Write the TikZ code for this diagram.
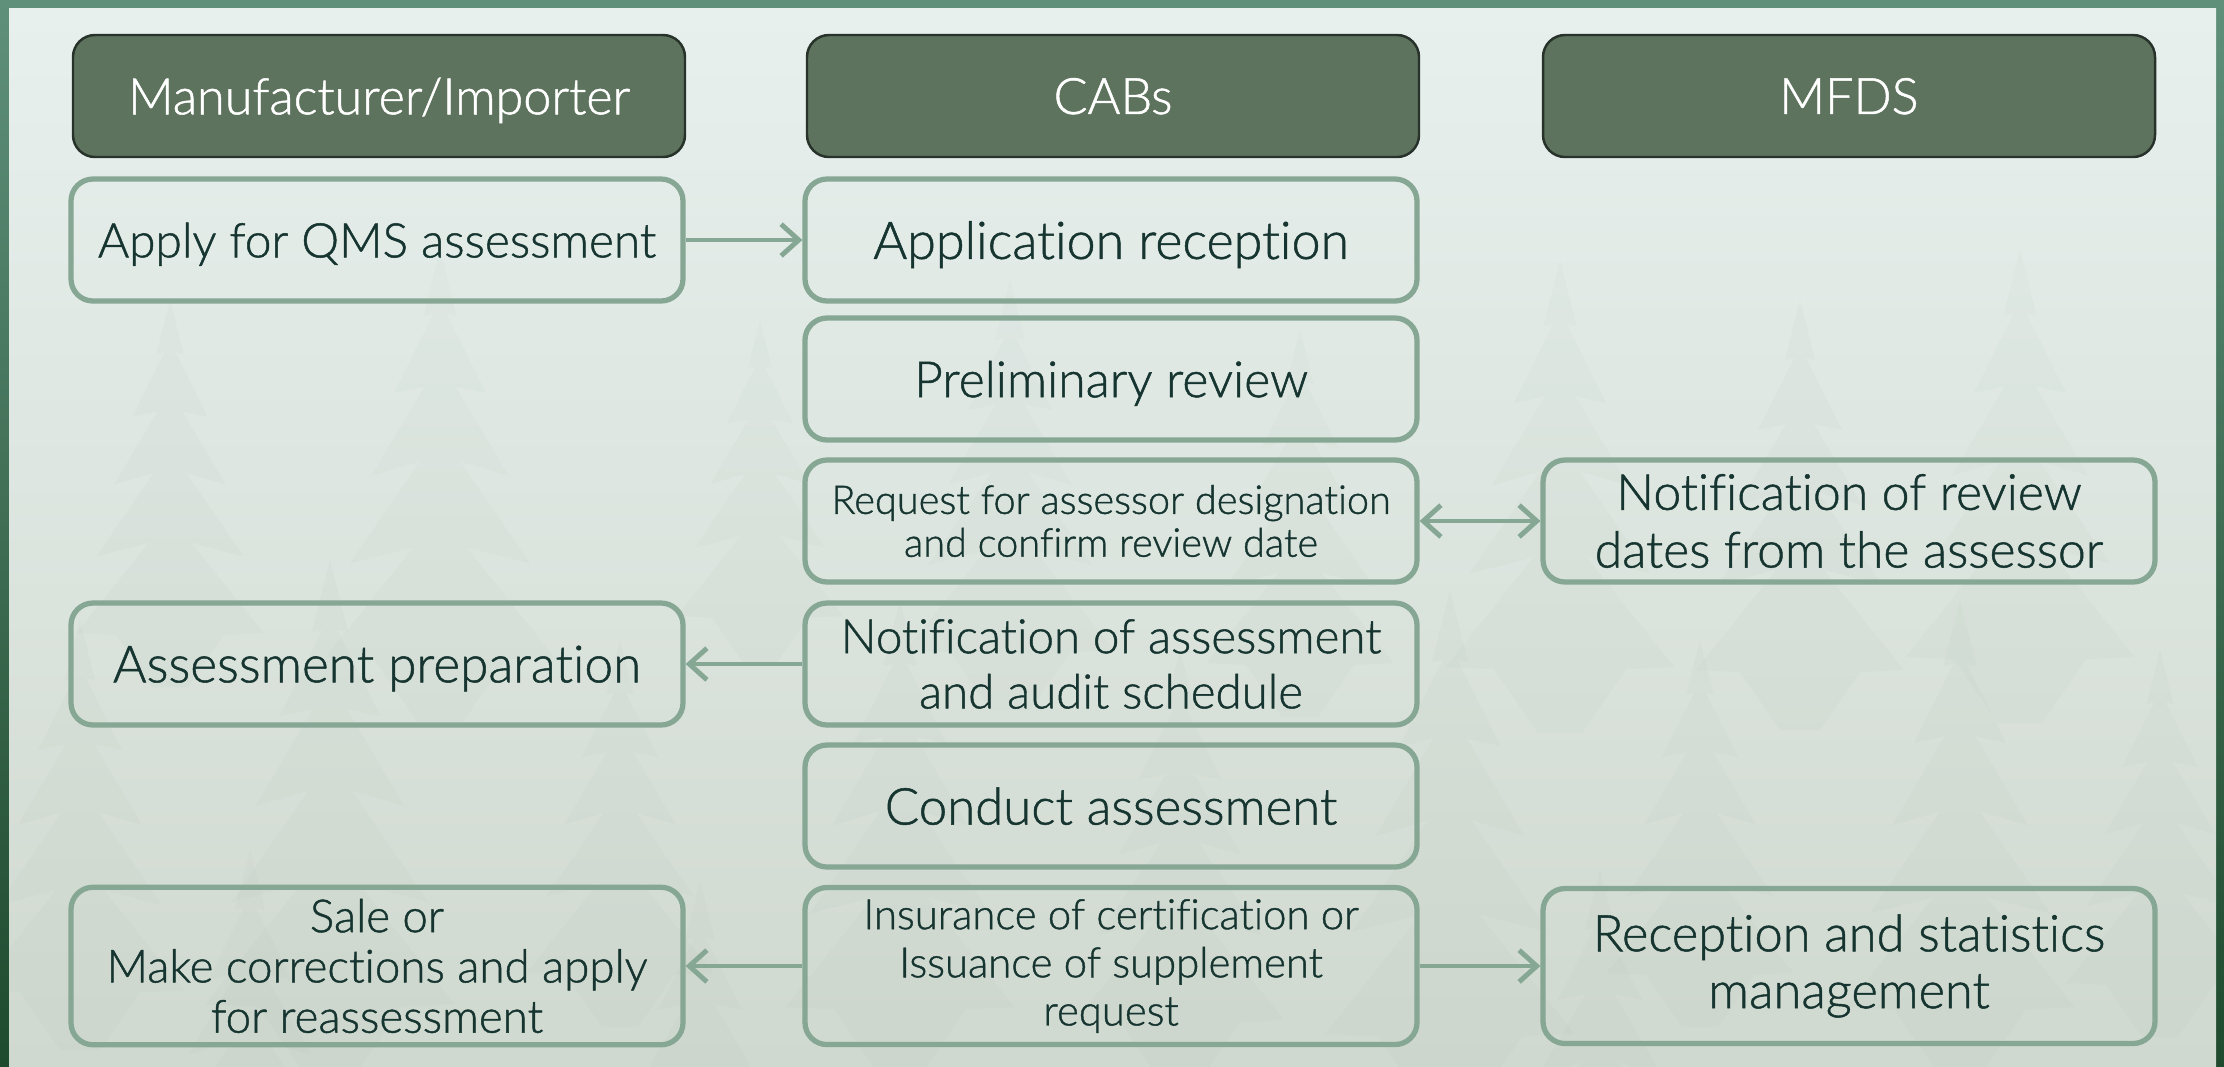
\documentclass[tikz,border=0pt]{standalone}
\usepackage{fontspec}
\IfFontExistsTF{Lato Light}{\setmainfont{Lato Light}[Ligatures=NoCommon,FakeBold=1]}{\setmainfont{Lato}[Ligatures=NoCommon]}
\usetikzlibrary{arrows.meta}

\definecolor{forestA}{HTML}{5F907A}
\definecolor{forestB}{HTML}{1E4A2D}
\definecolor{paneltop}{HTML}{E8F0EE}
\definecolor{panelbot}{HTML}{D0D9CF}
\definecolor{treeshade}{HTML}{7E9686}
\definecolor{headfill}{HTML}{5E735E}
\definecolor{headline}{HTML}{27322A}
\definecolor{sage}{HTML}{86A794}
\definecolor{ink}{HTML}{163530}

\begin{document}
\begin{tikzpicture}[x=0.1mm,y=-0.1mm,
  >={Straight Barb[length=5pt,width=9pt,line width=1.4pt]},
  sz/.style 2 args={font=\fontsize{#1}{#2}\selectfont},
  head/.style={draw=headline, line width=0.7pt, fill=headfill, rounded corners=2.2mm,
    minimum width=61.2mm, minimum height=12.2mm, text=white, text depth=0pt,
    sz={14.3}{16}},
  box/.style={draw=sage, line width=1.5pt, rounded corners=2.2mm,
    minimum width=61.2mm, minimum height=12.2mm, text=ink, align=center},
  one/.style={text depth=0pt},
  tall/.style={minimum height=15.5mm},
  flow/.style={draw=sage, line width=1.4pt, ->},
  both/.style={draw=sage, line width=1.4pt, <->}]

% background: forest frame and pale panel
\shade[top color=forestA, bottom color=forestB] (0,0) rectangle (2224,1066);
\shade[top color=paneltop, bottom color=panelbot] (9,8) rectangle (2216,1066);
\useasboundingbox (0,0) rectangle (2224,1066);

% faint fir silhouettes in the panel
\begin{scope}
  \clip (9,8) rectangle (2216,1066);
  \foreach \px/\py/\s/\o in {
      170/300/0.9/0.04, 440/250/1.1/0.035, 760/320/0.8/0.035, 1010/280/1.0/0.03,
      1300/330/0.9/0.035, 1560/260/1.1/0.035, 1800/300/1.0/0.04, 2020/250/1.1/0.035,
      80/620/1.0/0.04, 330/560/1.2/0.04, 620/640/0.9/0.035, 900/600/1.1/0.035,
      1180/650/1.0/0.035, 1450/590/1.2/0.04, 1700/640/0.9/0.035, 1960/600/1.1/0.04,
      2160/650/0.9/0.035, 250/850/1.0/0.03, 700/880/1.0/0.03, 1600/870/1.0/0.03}
    \fill[treeshade, opacity=\o, shift={(\px,\py)}, scale=\s]
      (0,0) -- (15,60) -- (6,58) -- (42,130) -- (14,124) -- (62,205) -- (18,192)
      -- (82,285) -- (24,270) -- (104,370) -- (60,372) -- (20,430) -- (-20,430)
      -- (-60,372) -- (-104,370) -- (-24,270) -- (-82,285) -- (-18,192) -- (-62,205)
      -- (-14,124) -- (-42,130) -- (-6,58) -- (-15,60) -- cycle;
\end{scope}

% column headers
\node[head] (hm) at (379,96) {Manufacturer/Importer};
\node[head] (hc) at (1113,96) {CABs};
\node[head] (hf) at (1849,96) {MFDS};

% process steps
\node[box,one,sz={13.6}{16}] (apply) at (377,240) {Apply for QMS assessment};
\node[box,one,sz={14.8}{16}] (recv)  at (1111,240) {Application reception};
\node[box,one,sz={14.2}{16}] (prel)  at (1111,379) {Preliminary review};
\node[box,sz={11.3}{12.2}] (req) at (1111,521) {Request for assessor designation\\and confirm review date};
\node[box,sz={14.2}{16.4}] (notr)  at (1849,521) {Notification of review\\dates from the assessor};
\node[box,one,sz={14.6}{16}] (prep)  at (377,664) {Assessment preparation};
\node[box,sz={13.5}{15.7}] (nota)  at (1111,664) {Notification of assessment\\and audit schedule};
\node[box,one,sz={14.5}{16}] (cond)  at (1111,806) {Conduct assessment};
\node[box,tall,sz={13}{14.3}] (sale) at (377,966) {Sale or\\Make corrections and apply\\for reassessment};
\node[box,tall,sz={11.9}{13.7}] (cert) at (1111,966) {Insurance of certification or\\Issuance of supplement\\request};
\node[box,tall,sz={14.4}{16.2}] (stat) at (1849,966) {Reception and statistics\\management};

% connectors
\draw[flow] (apply) -- (recv);
\draw[both] (req) -- (notr);
\draw[flow] (nota) -- (prep);
\draw[flow] (cert) -- (sale);
\draw[flow] (cert) -- (stat);
\end{tikzpicture}
\end{document}
